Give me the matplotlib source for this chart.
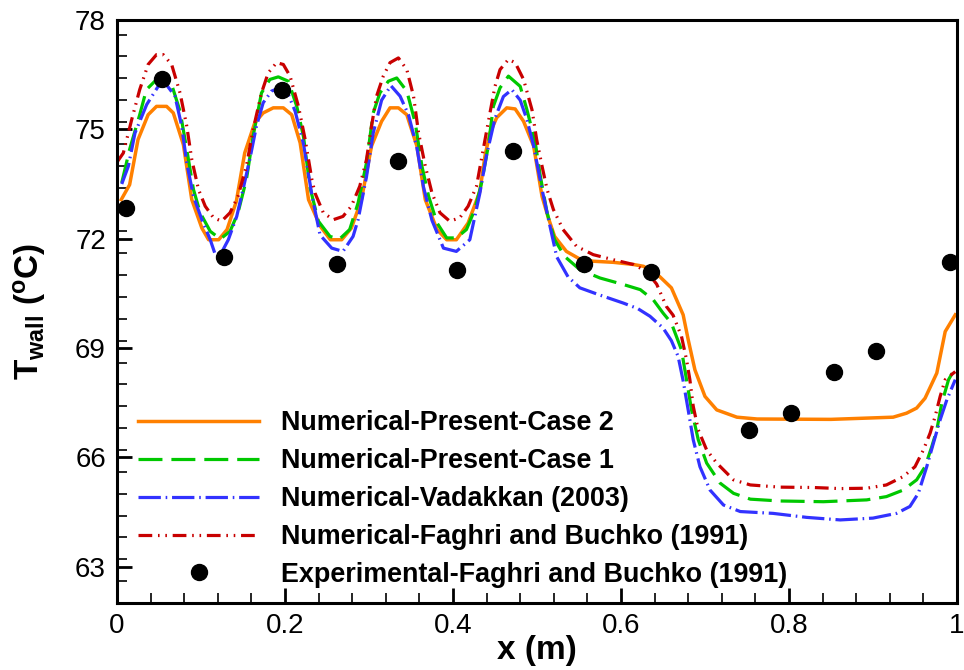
import matplotlib
matplotlib.use('Agg')
import matplotlib.pyplot as plt

plt.rcParams['font.family'] = ['Liberation Sans', 'DejaVu Sans']
plt.rcParams['mathtext.fontset'] = 'custom'
plt.rcParams['mathtext.rm'] = 'Liberation Sans'
plt.rcParams['mathtext.bf'] = 'Liberation Sans:bold'

# Numerical - present case 2
x_case2 = [0.005, 0.015, 0.025, 0.037, 0.047, 0.059, 0.067, 0.079, 0.089, 0.101, 0.109, 0.121, 0.131,
           0.142, 0.152, 0.164, 0.174, 0.186, 0.198, 0.208, 0.218, 0.228, 0.242, 0.254, 0.2675, 0.279,
           0.291, 0.303, 0.315, 0.325, 0.335, 0.345, 0.357, 0.367, 0.381, 0.3925, 0.404, 0.418, 0.432,
           0.438, 0.444, 0.452, 0.464, 0.474, 0.484, 0.496, 0.506, 0.5135, 0.521, 0.535, 0.551, 0.567,
           0.591, 0.615, 0.627, 0.646, 0.660, 0.674, 0.680, 0.688, 0.700, 0.714, 0.738, 0.762, 0.850,
           0.924, 0.940, 0.952, 0.962, 0.976, 0.986, 0.998]
T_case2 = [73.07, 73.48, 74.72, 75.40, 75.63, 75.63, 75.45, 74.58, 73.07, 72.29, 71.97, 71.97, 72.25,
           73.02, 74.35, 75.18, 75.45, 75.59, 75.59, 75.40, 74.63, 73.07, 72.34, 71.97, 71.97, 72.29,
           73.07, 74.54, 75.22, 75.59, 75.59, 75.40, 74.54, 73.07, 72.25, 71.97, 71.97, 72.43, 73.30,
           74.26, 74.90, 75.32, 75.59, 75.56, 75.22, 74.54, 73.16, 72.57, 72.06, 71.65, 71.44, 71.38,
           71.35, 71.29, 71.24, 70.96, 70.65, 69.91, 69.23, 68.40, 67.67, 67.30, 67.10, 67.05, 67.04,
           67.10, 67.21, 67.35, 67.62, 68.31, 69.45, 69.91]

# Numerical - present case 1
x_case1 = [0.0056, 0.015, 0.027, 0.035, 0.045, 0.055, 0.065, 0.075, 0.083, 0.091, 0.099, 0.111, 0.123,
           0.1345, 0.144, 0.154, 0.162, 0.172, 0.182, 0.192, 0.204, 0.214, 0.222, 0.2298, 0.2397,
           0.2536, 0.265, 0.277, 0.287, 0.297, 0.305, 0.313, 0.323, 0.333, 0.345, 0.355, 0.363, 0.371,
           0.381, 0.3925, 0.404, 0.416, 0.426, 0.434, 0.442, 0.448, 0.456, 0.466, 0.480, 0.488, 0.498,
           0.504, 0.512, 0.521, 0.533, 0.551, 0.575, 0.603, 0.623, 0.6385, 0.650, 0.660, 0.672, 0.678,
           0.684, 0.692, 0.702, 0.718, 0.734, 0.754, 0.789, 0.841, 0.8925, 0.916, 0.936, 0.952, 0.962,
           0.970, 0.976, 0.982, 0.990, 0.998]
T_case1 = [73.53, 74.45, 75.40, 76.09, 76.32, 76.41, 76.23, 75.50, 74.45, 73.35, 72.71, 72.20, 71.99,
           72.20, 72.71, 73.62, 74.81, 76.00, 76.37, 76.44, 76.32, 75.63, 74.80, 73.40, 72.48,
           72.06, 71.99, 72.25, 72.98, 74.08, 75.45, 76.00, 76.32, 76.41, 76.05, 75.18, 73.99, 73.16,
           72.43, 72.02, 72.02, 72.25, 72.80, 73.53, 74.54, 75.63, 76.14, 76.46, 76.18, 75.54, 74.63,
           73.71, 72.71, 71.97, 71.51, 71.15, 70.92, 70.74, 70.60, 70.32, 69.96, 69.68, 68.95, 68.13,
           67.30, 66.48, 65.84, 65.29, 65.01, 64.85, 64.80, 64.78, 64.83, 64.92, 65.10, 65.38, 65.74,
           66.29, 66.75, 67.49, 68.13, 68.45]

# Numerical - Vadakkan (2003)
x_vad = [0.0056, 0.0135, 0.0214, 0.0353, 0.049, 0.058, 0.069, 0.077, 0.083, 0.091, 0.101, 0.111, 0.117,
         0.124, 0.1325, 0.1425, 0.150, 0.158, 0.166, 0.174, 0.184, 0.194, 0.204, 0.212, 0.222, 0.232,
         0.2417, 0.2556, 0.269, 0.281, 0.287, 0.297, 0.305, 0.315, 0.326, 0.337, 0.347, 0.357, 0.365,
         0.375, 0.3886, 0.404, 0.420, 0.432, 0.440, 0.450, 0.460, 0.470, 0.480, 0.488, 0.496, 0.506,
         0.5155, 0.5235, 0.537, 0.551, 0.575, 0.603, 0.620, 0.6345, 0.650, 0.660, 0.668, 0.674, 0.680,
         0.686, 0.694, 0.706, 0.722, 0.742, 0.781, 0.821, 0.861, 0.900, 0.928, 0.944, 0.954, 0.964,
         0.972, 0.980, 0.988, 0.998]
T_vad = [73.50, 73.99, 74.90, 75.68, 76.18, 76.25, 75.91, 75.09, 74.08, 73.16, 72.52, 71.97, 71.56,
         71.60, 71.97, 72.61, 73.35, 74.17, 75.09, 75.73, 76.05, 76.14, 75.95, 75.50, 74.60, 73.20,
         72.10, 71.74, 71.65, 72.06, 72.52, 73.70, 74.90, 75.80, 76.20, 75.91, 75.40, 74.50, 73.40,
         72.50, 71.74, 71.65, 71.97, 73.25, 74.30, 75.30, 75.90, 76.09, 75.80, 75.27, 74.54, 73.35,
         72.34, 71.50, 70.95, 70.65, 70.45, 70.23, 70.08, 69.87, 69.55, 69.20, 68.77, 68.10, 67.30,
         66.48, 65.74, 65.10, 64.69, 64.51, 64.46, 64.35, 64.28, 64.33, 64.46, 64.65, 65.01, 65.74,
         66.39, 67.03, 67.58, 68.13]

# Numerical - Faghri and Buchko (1991)
x_fag = [0.0, 0.0075, 0.0175, 0.027, 0.037, 0.047, 0.055, 0.065, 0.075, 0.083, 0.089, 0.097, 0.105,
         0.115, 0.1246, 0.1345, 0.144, 0.154, 0.162, 0.172, 0.180, 0.190, 0.198, 0.206, 0.216, 0.224,
         0.232, 0.2357, 0.2456, 0.2575, 0.269, 0.279, 0.289, 0.297, 0.303, 0.309, 0.317, 0.325, 0.335,
         0.345, 0.353, 0.359, 0.367, 0.375, 0.3845, 0.396, 0.408, 0.418, 0.428, 0.436, 0.444, 0.450,
         0.456, 0.466, 0.474, 0.484, 0.494, 0.4996, 0.506, 0.512, 0.5195, 0.531, 0.547, 0.567, 0.591,
         0.615, 0.6306, 0.6425, 0.654, 0.662, 0.672, 0.678, 0.682, 0.686, 0.692, 0.702, 0.714, 0.734,
         0.754, 0.789, 0.829, 0.861, 0.8925, 0.916, 0.936, 0.950, 0.960, 0.968, 0.974, 0.980, 0.986,
         0.998]
T_fag = [74.10, 74.35, 75.27, 76.09, 76.78, 77.05, 77.05, 76.78, 76.00, 75.09, 74.17, 73.35, 72.89,
         72.57, 72.48, 72.71, 73.16, 73.99, 74.99, 76.00, 76.55, 76.83, 76.78, 76.46, 75.63, 74.72,
         73.62, 73.25, 72.71, 72.52, 72.61, 72.89, 73.44, 74.17, 75.09, 75.91, 76.46, 76.83, 76.96,
         76.64, 75.91, 74.90, 73.99, 73.25, 72.71, 72.48, 72.57, 72.89, 73.44, 74.45, 75.45, 76.18,
         76.64, 76.92, 76.83, 76.37, 75.54, 74.72, 73.99, 73.35, 72.80, 72.25, 71.79, 71.56, 71.42,
         71.29, 71.10, 70.75, 70.14, 69.90, 69.32, 68.68, 68.13, 67.40, 66.75, 66.20, 65.84, 65.38,
         65.24, 65.18, 65.17, 65.14, 65.15, 65.24, 65.47, 65.74, 66.20, 66.66, 67.12, 67.67, 68.13,
         68.35]

# Experimental - Faghri and Buchko (1991)
x_exp = [0.011, 0.054, 0.127, 0.197, 0.262, 0.334, 0.405, 0.472, 0.556, 0.636, 0.752, 0.802,
         0.854, 0.904, 0.992]
T_exp = [72.83, 76.39, 71.50, 76.09, 71.31, 74.13, 71.15, 74.40, 71.30, 71.09, 66.75, 67.21,
         68.35, 68.93, 71.36]

fig = plt.figure(figsize=(9.64, 6.70), dpi=100)
ax = fig.add_axes([0.1214, 0.1, 0.8713, 0.8701])

ax.plot(x_case2, T_case2, color='#ff8000', lw=2.5, label='Numerical-Present-Case 2')
ax.plot(x_case1, T_case1, color='#00c800', lw=2.3, dashes=(7.5, 2.8),
        label='Numerical-Present-Case 1')
ax.plot(x_vad, T_vad, color='#3232ff', lw=2.3, dashes=(7.0, 1.5, 0.5, 1.5),
        label='Numerical-Vadakkan (2003)')
ax.plot(x_fag, T_fag, color='#c80000', lw=2.3, dashes=(4.3, 1.8, 0.5, 1.8, 0.5, 1.8),
        label='Numerical-Faghri and Buchko (1991)')
ax.plot(x_exp, T_exp, 'o', color='black', ms=11.5, zorder=5,
        label='Experimental-Faghri and Buchko (1991)')

ax.set_xlim(0, 1)
ax.set_ylim(62, 78)
ax.set_xticks([0, 0.2, 0.4, 0.6, 0.8, 1.0])
ax.set_xticklabels(['0', '0.2', '0.4', '0.6', '0.8', '1'])
ax.set_yticks([63, 66, 69, 72, 75, 78])
ax.set_xticks([i * 0.04 for i in range(26)], minor=True)
ax.set_yticks([62 + i * 0.6 for i in range(27)], minor=True)
ax.tick_params(which='both', direction='in', top=False, right=False, labelsize=20)
ax.tick_params(which='major', length=11, width=2)
ax.tick_params(which='minor', length=7, width=1.2)
ax.tick_params(axis='x', pad=7)
ax.tick_params(axis='y', pad=8)
for s in ax.spines.values():
    s.set_linewidth(2.2)

ax.set_xlabel('x (m)', fontsize=24, fontweight='bold', labelpad=-3)
ax.set_ylabel(r'$\mathbf{T_{wall}}$ $\mathbf{(^{o}C)}$', fontsize=24)
ax.yaxis.set_label_coords(-0.082, 0.5)

ax.legend(loc='lower left', bbox_to_anchor=(0.025, 0.026), frameon=False,
          prop={'weight': 'bold', 'size': 19.4}, handlelength=4.5, handletextpad=0.8,
          labelspacing=0.44, borderpad=0, borderaxespad=0)

fig.savefig('out.png', dpi=100)
